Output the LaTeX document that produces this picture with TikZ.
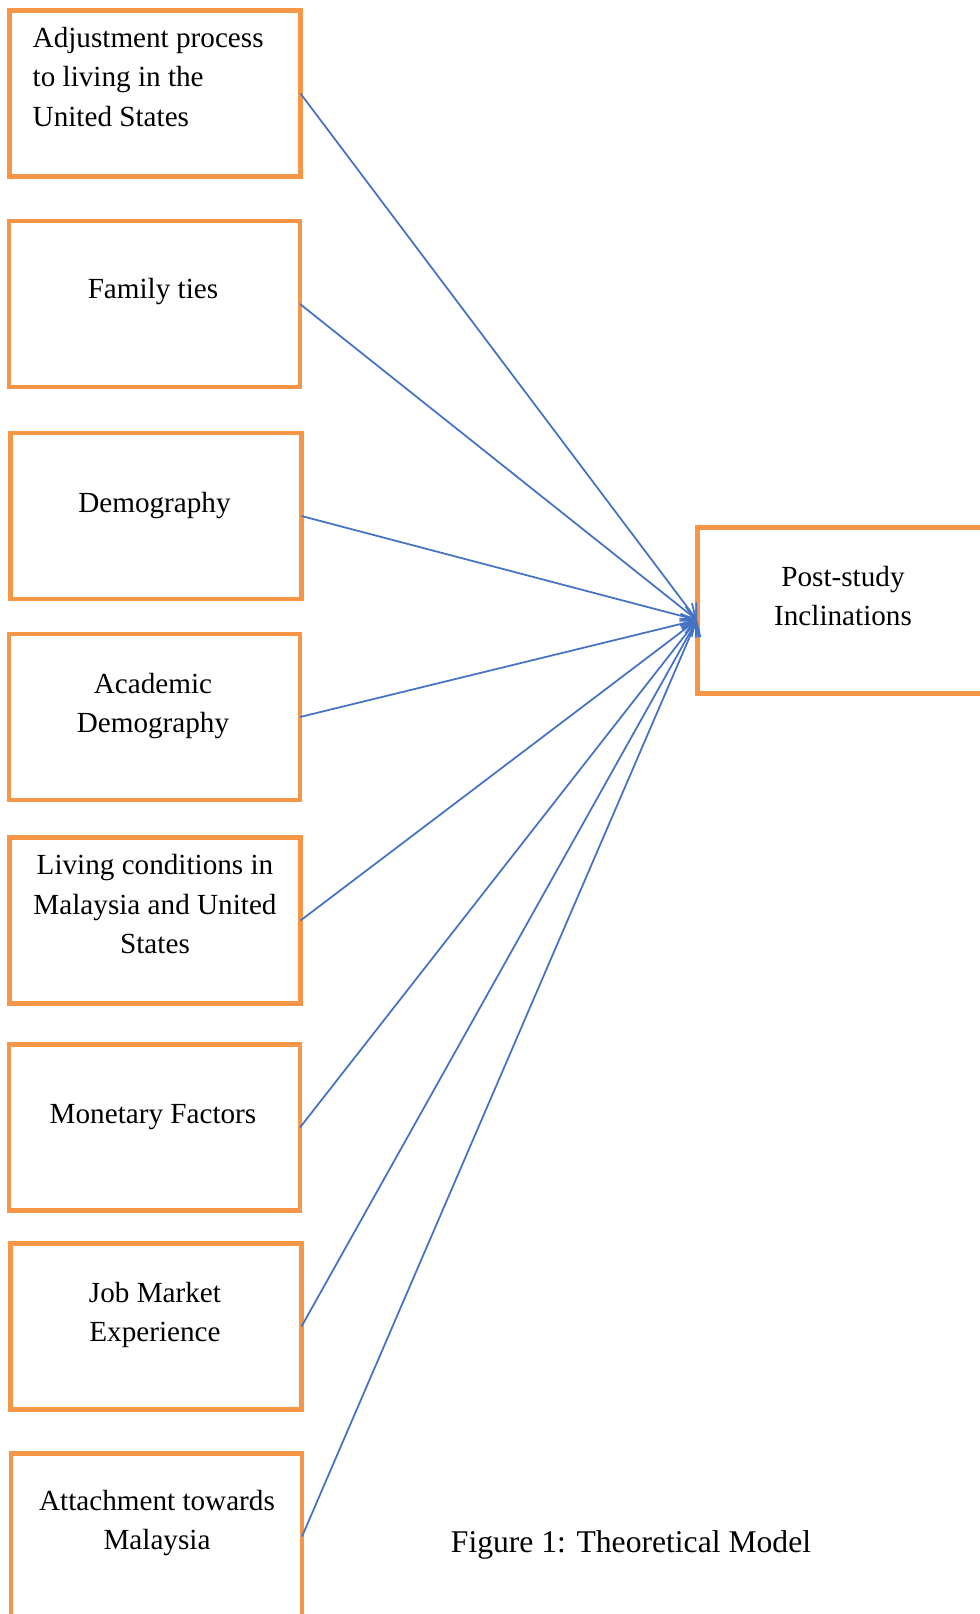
\documentclass[tikz,border=0pt]{standalone}
\usepackage{fontspec}
\setmainfont{Liberation Serif}
\usetikzlibrary{arrows.meta}
\definecolor{boxorange}{HTML}{F79646}
\definecolor{linkblue}{HTML}{4472C4}

\begin{document}
\begin{tikzpicture}[x=0.1mm,y=-0.1mm,
    factor/.style={draw=boxorange,line width=1.3pt,minimum width=29.1mm,%
      minimum height=16.6mm,inner sep=0pt,outer sep=0pt},
    lbl/.style={font=\fontsize{8.3}{11.1}\selectfont,align=center,anchor=base,inner sep=0pt},
    link/.style={draw=linkblue,line width=0.5pt,-{Straight Barb[length=1.3mm,width=2mm]}}]
      \useasboundingbox (0,0) rectangle (980,1614) ;
      \node[factor] (adj) at (155,93.5) {} ;
      \node[factor] (fam) at (154.5,304) {} ;
      \node[factor] (dem) at (156,516) {} ;
      \node[factor] (acad) at (154.5,717) {} ;
      \node[factor] (liv) at (155,920.5) {} ;
      \node[factor] (mon) at (154.5,1127.5) {} ;
      \node[factor] (job) at (156,1326.5) {} ;
      \node[factor] (att) at (156.5,1536.5) {} ;
      \node[factor] (post) at (843,610.5) {} ;
      \node[lbl,align=left,anchor=base west] (adjt) at (32,126) %
      {Adjustment process\\to living in the\\United States} ;
      \node[lbl] (famt) at (153,298) {Family ties} ;
      \node[lbl] (demt) at (154.5,512) {Demography} ;
      \node[lbl] (acadt) at (153,732) {Academic\\Demography} ;
      \node[lbl] (livt) at (155,953) {Living conditions in\\Malaysia and United\\States} ;
      \node[lbl] (mont) at (153,1123) {Monetary Factors} ;
      \node[lbl] (jobt) at (155,1341) {Job Market\\Experience} ;
      \node[lbl] (attt) at (157,1549) {Attachment towards\\Malaysia} ;
      \node[lbl] (postt) at (843,625) {Post-study\\Inclinations} ;
      \node[lbl,font=\fontsize{9}{11}\selectfont] (cap) at (631,1552) %
      {Figure 1: Theoretical Model} ;
      \coordinate (tip) at (697,620) ;
      \draw[link] (adj.east)--(tip) ;
      \draw[link] (fam.east)--(tip) ;
      \draw[link] (dem.east)--(tip) ;
      \draw[link] (acad.east)--(tip) ;
      \draw[link] (liv.east)--(tip) ;
      \draw[link] (mon.east)--(tip) ;
      \draw[link] (job.east)--(tip) ;
      \draw[link] (att.east)--(tip) ;
    \end{tikzpicture}
\end{document}
